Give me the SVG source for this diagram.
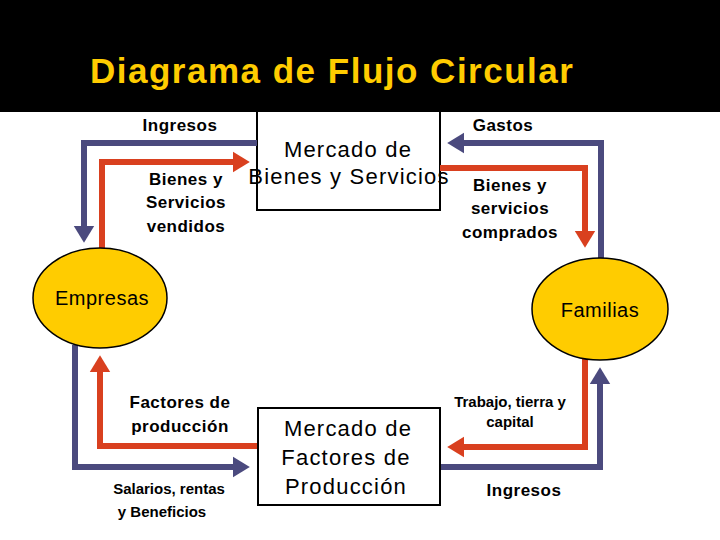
<svg xmlns="http://www.w3.org/2000/svg" width="720" height="540" viewBox="0 0 720 540">
<defs>
<style>
text{font-family:"Liberation Sans",Arial,sans-serif;fill:#000}
.b{font-weight:bold;font-size:17px;letter-spacing:0.5px}
.s{font-weight:bold;font-size:15px}
.m{font-size:22px;letter-spacing:1.2px}
.red{stroke:#d9401f;stroke-width:6;fill:none}
.blue{stroke:#4b4a7e;stroke-width:6;fill:none}
.box{fill:#fff;stroke:#000;stroke-width:2}
.ell{fill:#ffcc00;stroke:#000;stroke-width:1.5}
</style>
<marker id="ar" markerWidth="4" markerHeight="4" refX="2" refY="2" orient="auto" markerUnits="strokeWidth"><path d="M0,0.3 L2.8,2 L0,3.7z" fill="#d9401f"/></marker>
<marker id="ab" markerWidth="4" markerHeight="4" refX="2" refY="2" orient="auto" markerUnits="strokeWidth"><path d="M0,0.3 L2.8,2 L0,3.7z" fill="#4b4a7e"/></marker>
</defs>
<rect width="720" height="540" fill="#fff"/>
<g id="mercado-bienes">
<rect class="box" x="257" y="106" width="183" height="104"/>
</g>
<rect width="720" height="112" fill="#000"/>
<text x="90" y="83" style="font-weight:bold;font-size:35px;fill:#ffcc00;letter-spacing:1.5px">Diagrama de Flujo Circular</text>
<g id="connectors">
<path class="blue" d="M257,143 H84 V238" marker-end="url(#ab)"/>
<path class="red" d="M102,255 V162 H245" marker-end="url(#ar)"/>
<path class="blue" d="M601,258 V143 H452" marker-end="url(#ab)"/>
<path class="red" d="M440,168 H585 V243" marker-end="url(#ar)"/>
<path class="blue" d="M75,345 V467 H245" marker-end="url(#ab)"/>
<path class="red" d="M258,446 H100 V360" marker-end="url(#ar)"/>
<path class="red" d="M585,358 V447 H452" marker-end="url(#ar)"/>
<path class="blue" d="M440,467 H600 V372" marker-end="url(#ab)"/>
</g>
<g id="mercado-bienes-text">
<text class="m" x="348" y="157" text-anchor="middle">Mercado de</text>
<text class="m" x="349" y="184" text-anchor="middle">Bienes y Servicios</text>
</g>
<g id="mercado-factores">
<rect class="box" x="258" y="408" width="182" height="97"/>
<text class="m" x="348" y="436" text-anchor="middle">Mercado de</text>
<text class="m" x="346" y="465" text-anchor="middle">Factores de</text>
<text class="m" x="346" y="494" text-anchor="middle">Producción</text>
</g>
<g id="empresas">
<ellipse class="ell" cx="100" cy="298" rx="67" ry="50"/>
<text x="102" y="305" text-anchor="middle" style="font-size:20px;letter-spacing:0.5px">Empresas</text>
</g>
<g id="familias">
<ellipse class="ell" cx="600" cy="309" rx="68" ry="51"/>
<text x="600" y="317" text-anchor="middle" style="font-size:20px;letter-spacing:0.5px">Familias</text>
</g>
<g id="labels">
<text class="b" x="180" y="131" text-anchor="middle">Ingresos</text>
<text class="b" x="503" y="131" text-anchor="middle">Gastos</text>
<text class="b" x="186" y="185" text-anchor="middle">Bienes y</text>
<text class="b" x="186" y="208" text-anchor="middle">Servicios</text>
<text class="b" x="186" y="232" text-anchor="middle">vendidos</text>
<text class="b" x="510" y="191" text-anchor="middle">Bienes y</text>
<text class="b" x="510" y="214" text-anchor="middle">servicios</text>
<text class="b" x="510" y="238" text-anchor="middle">comprados</text>
<text class="b" x="180" y="408" text-anchor="middle">Factores de</text>
<text class="b" x="180" y="432" text-anchor="middle">producción</text>
<text class="s" x="169" y="494" text-anchor="middle">Salarios, rentas</text>
<text class="s" x="162" y="517" text-anchor="middle">y Beneficios</text>
<text class="s" x="510" y="407" text-anchor="middle">Trabajo, tierra y</text>
<text class="s" x="510" y="427" text-anchor="middle">capital</text>
<text class="b" x="524" y="496" text-anchor="middle">Ingresos</text>
</g>
</svg>
